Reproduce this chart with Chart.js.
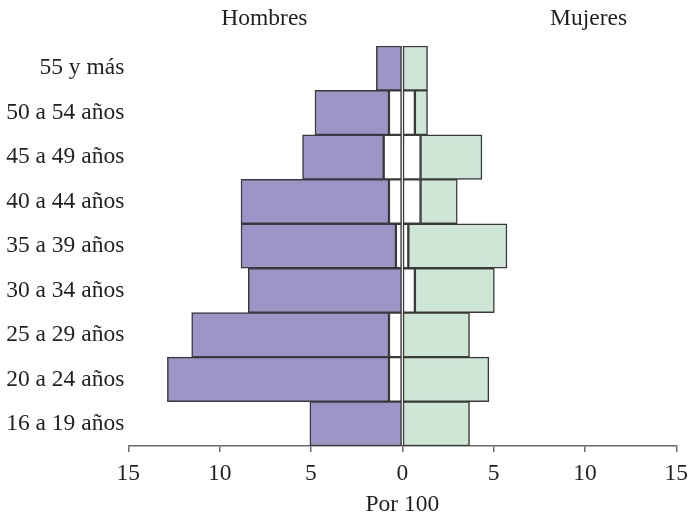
<!DOCTYPE html>
<html>
<head>
<meta charset="utf-8">
<script src="https://cdn.jsdelivr.net/npm/chart.js@4/dist/chart.umd.min.js"></script>
<style>
  html, body { margin: 0; padding: 0; background: #ffffff; }
  canvas { display: block; }
</style>
</head>
<body>
<canvas id="c" width="689" height="517"></canvas>
<script>
const categories = ["55 y más", "50 a 54 años", "45 a 49 años", "40 a 44 años", "35 a 39 años", "30 a 34 años", "25 a 29 años", "20 a 24 años", "16 a 19 años"];
// Hombres (plotted to the left as negative values)
const hombresInner = [0, -0.73, -1.02, -0.73, -0.35, 0, -0.73, -0.73, 0];
const hombresOuter = [-1.42, -4.05, -4.44, -8.10, -8.48, -8.43, -10.80, -12.13, -5.06];
// Mujeres
const mujeresInner = [0, 0.69, 1.00, 1.00, 0.33, 0.69, 0, 0, 0];
const mujeresOuter = [1.38, 0.69, 3.36, 2.01, 5.40, 4.35, 3.68, 4.74, 3.68];
const xTicks = [-15, -10, -5, 0, 5, 10, 15];
const sideLabels = ["Hombres", "Mujeres"];
const axisTitle = "Por 100";

const FONT = "'Liberation Serif', 'Times New Roman', serif";
const FS = 23.5;
const TEXT = "#231f20";
const EDGE = "#3a3a3a";

const sideLabelPlugin = {
  id: 'sideLabels',
  afterDraw(chart) {
    const ctx = chart.ctx;
    const xs = chart.scales.x;
    ctx.save();
    ctx.font = FS + "px " + FONT;
    ctx.fillStyle = TEXT;
    ctx.textAlign = 'center';
    ctx.textBaseline = 'middle';
    ctx.fillText(sideLabels[0], xs.getPixelForValue(-7.55), 19);
    ctx.fillText(sideLabels[1], xs.getPixelForValue(10.2), 19);
    ctx.restore();
  }
};

const common = { borderColor: EDGE, borderWidth: 1.5, borderSkipped: false, barPercentage: 1, categoryPercentage: 1 };

new Chart(document.getElementById('c'), {
  type: 'bar',
  data: {
    labels: categories,
    datasets: [
      Object.assign({ label: 'H0', data: hombresInner, backgroundColor: '#ffffff' }, common),
      Object.assign({ label: 'Hombres', data: hombresOuter, backgroundColor: '#9c95c8' }, common),
      Object.assign({ label: 'M0', data: mujeresInner, backgroundColor: '#ffffff' }, common),
      Object.assign({ label: 'Mujeres', data: mujeresOuter, backgroundColor: '#cde6d6' }, common)
    ]
  },
  options: {
    indexAxis: 'y',
    responsive: false,
    animation: false,
    layout: { padding: { top: 46, right: 12.7, left: 0, bottom: 0 } },
    plugins: { legend: { display: false }, tooltip: { enabled: false } },
    scales: {
      x: {
        stacked: true,
        min: -15, max: 15,
        afterBuildTicks(scale) { scale.ticks = xTicks.map(v => ({ value: v })); },
        afterFit(scale) { scale.height = 71; scale.paddingLeft = 0; scale.paddingRight = 0; },
        grid: { drawOnChartArea: false, drawTicks: true, tickLength: 6, color: '#6b6b6b', lineWidth: 1.5 },
        border: { display: true, color: '#6b6b6b', width: 1.5 },
        ticks: {
          padding: 8,
          color: TEXT,
          font: { family: FONT, size: FS },
          callback: (v) => String(Math.abs(v))
        },
        title: { display: true, text: axisTitle, color: TEXT, font: { family: FONT, size: FS, lineHeight: 1 }, padding: { top: 0, bottom: 0 } }
      },
      y: {
        stacked: true,
        afterFit(scale) { scale.width = 128.3; },
        grid: { display: false, drawTicks: false },
        border: { display: false },
        ticks: { padding: 4, color: TEXT, font: { family: FONT, size: FS } }
      }
    }
  },
  plugins: [sideLabelPlugin]
});
</script>
</body>
</html>
